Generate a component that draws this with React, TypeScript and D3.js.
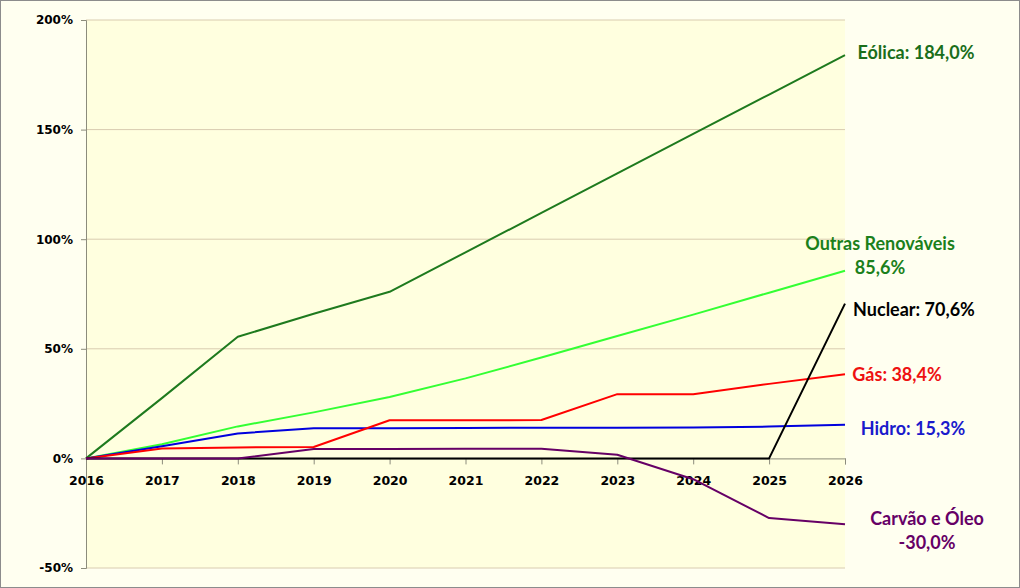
import React, { useEffect, useRef } from 'react';
import * as d3 from 'd3';

const years = [2016, 2017, 2018, 2019, 2020, 2021, 2022, 2023, 2024, 2025, 2026];

const eolica = [0, 27.5, 55.5, 66, 76, 94, 112, 130, 148, 166, 184.0];
const outras = [0, 6.5, 14.6, 21, 28, 36.5, 46, 55.8, 65.6, 75.6, 85.6];
const hidro = [0, 5.5, 11.4, 13.7, 13.8, 13.9, 14.0, 14.0, 14.1, 14.5, 15.3];
const gas = [0, 4.5, 5.0, 5.2, 17.4, 17.4, 17.5, 29.3, 29.3, 34, 38.4];
const nuclear = [0, 0, 0, 0, 0, 0, 0, 0, 0, 0, 70.6];
const carvao = [0, 0, 0, 4.3, 4.3, 4.4, 4.4, 1.7, -9.5, -27.2, -30.0];

const yTicks = [-50, 0, 50, 100, 150, 200];

const series = [
  { name: 'eolica', values: eolica, color: '#1e7a1e' },
  { name: 'outras', values: outras, color: '#33ff33' },
  { name: 'hidro', values: hidro, color: '#0000dd' },
  { name: 'gas', values: gas, color: '#ff0000' },
  { name: 'nuclear', values: nuclear, color: '#000000' },
  { name: 'carvao', values: carvao, color: '#660066' },
];

const labels = [
  { lines: ['Eólica: 184,0%'], x: 916, y: 53, color: '#1a6e1a' },
  { lines: ['Outras Renováveis', '85,6%'], x: 880, y: 244, color: '#1b801b' },
  { lines: ['Nuclear: 70,6%'], x: 914, y: 310, color: '#000000' },
  { lines: ['Gás: 38,4%'], x: 897, y: 375, color: '#ee1111' },
  { lines: ['Hidro: 15,3%'], x: 913, y: 429, color: '#1a1acc' },
  { lines: ['Carvão e Óleo', '-30,0%'], x: 927, y: 519, color: '#660066' },
];

const App = () => {
  const svgRef = useRef<SVGSVGElement>(null);

  useEffect(() => {
    const svg = d3.select(svgRef.current);
    svg.selectAll('*').remove();

    const W = 1020;
    const H = 588;
    const margin = { top: 20, right: 175, bottom: 20, left: 86 };

    const x = d3.scaleLinear().domain([2016, 2026]).range([margin.left, W - margin.right]);
    const y = d3.scaleLinear().domain([-50, 200]).range([H - margin.bottom, margin.top]);

    // outer background + border
    svg.append('rect').attr('x', 0.5).attr('y', 0.5).attr('width', W - 1).attr('height', H - 1)
      .attr('fill', '#fffff0').attr('stroke', '#8c8c8c');

    // plot area
    svg.append('rect')
      .attr('x', x(2016)).attr('y', y(200))
      .attr('width', x(2026) - x(2016)).attr('height', y(-50) - y(200))
      .attr('fill', '#ffffdf');

    // gridlines
    svg.append('g')
      .selectAll('line')
      .data(yTicks.filter((d) => d !== 0))
      .enter()
      .append('line')
      .attr('x1', x(2016)).attr('x2', x(2026))
      .attr('y1', (d) => y(d)).attr('y2', (d) => y(d))
      .attr('stroke', '#d9ccb0').attr('stroke-width', 1);

    // y axis
    const yAxis = svg.append('g')
      .attr('transform', `translate(${x(2016)},0)`)
      .call(d3.axisLeft(y).tickValues(yTicks).tickSize(5).tickPadding(8).tickFormat((d) => `${d}%`));
    yAxis.select('.domain').attr('stroke', '#8c8c7c');
    yAxis.selectAll('.tick line').attr('stroke', '#8c8c7c');
    yAxis.selectAll('text')
      .attr('font-family', 'DejaVu Sans, Verdana, sans-serif')
      .attr('font-weight', 'bold').attr('font-size', 12).attr('fill', '#000');

    // x axis at 0%
    const xAxis = svg.append('g')
      .attr('transform', `translate(0,${y(0)})`)
      .call(d3.axisBottom(x).tickValues(years).tickSize(6).tickPadding(12).tickFormat(d3.format('d')));
    xAxis.select('.domain').attr('stroke', '#8c8c7c');
    xAxis.selectAll('.tick line').attr('stroke', '#8c8c7c');
    xAxis.selectAll('text')
      .attr('font-family', 'DejaVu Sans, Verdana, sans-serif')
      .attr('font-weight', 'bold').attr('font-size', 12.5).attr('fill', '#000');

    // lines
    const line = d3.line<number>()
      .x((_, i) => x(years[i]))
      .y((d) => y(d));

    svg.append('g')
      .selectAll('path')
      .data(series)
      .enter()
      .append('path')
      .attr('d', (s) => line(s.values))
      .attr('fill', 'none')
      .attr('stroke', (s) => s.color)
      .attr('stroke-width', 2)
      .attr('stroke-linejoin', 'round');

    // end labels
    const lab = svg.append('g')
      .attr('font-family', 'Lato, "Open Sans", sans-serif')
      .attr('font-weight', 'bold')
      .attr('font-size', 18)
      .attr('text-anchor', 'middle');

    labels.forEach((l) => {
      l.lines.forEach((t, i) => {
        lab.append('text')
          .attr('x', l.x)
          .attr('y', l.y + i * 24)
          .attr('dy', '0.35em')
          .attr('fill', l.color)
          .text(t);
      });
    });
  }, []);

  return (
    <svg
      ref={svgRef}
      width={1020}
      height={588}
      style={{ position: 'absolute', left: 0, top: 0, display: 'block' }}
    />
  );
};

export default App;
